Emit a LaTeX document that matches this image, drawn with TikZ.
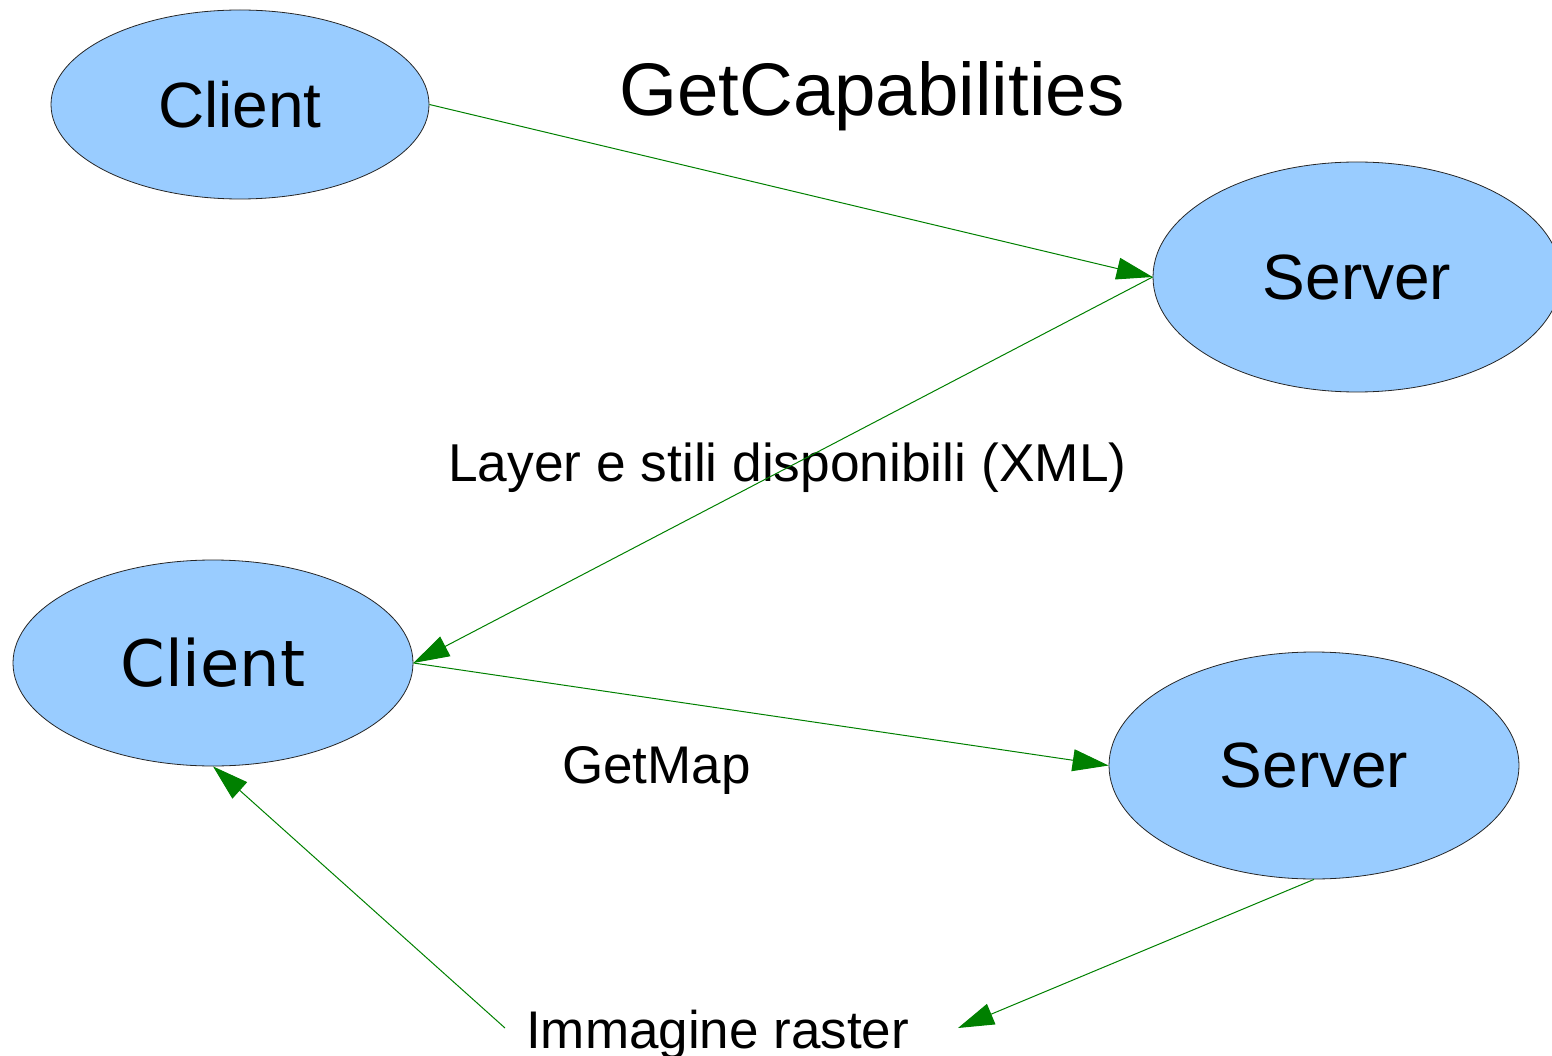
\documentclass[tikz,border=0pt]{standalone}
\usepackage{fontspec}
\setmainfont{Liberation Sans}
\newfontfamily\dejavu{DejaVu Sans}
\usetikzlibrary{shapes.geometric,arrows.meta}
\definecolor{nodeblue}{HTML}{99CCFF}
\definecolor{arrowgreen}{HTML}{008000}
\tikzset{
  peer/.style={ellipse, draw=black!85, line width=0.8pt, fill=nodeblue, inner sep=0pt, text=black},
  flow/.style={draw=arrowgreen, line width=1pt, -{Triangle[length=36pt,width=22pt,fill=arrowgreen]}},
  lbl/.style={anchor=base west, inner sep=0pt, text=black}
}
\begin{document}
\begin{tikzpicture}[x=1pt,y=-1pt]
\useasboundingbox (0,0) rectangle (1552,1056);
\clip (0,0) rectangle (1552,1056);
\node[peer, minimum width=378pt, minimum height=189pt, font=\fontsize{64}{70}\selectfont] (c1) at (240,104.5) {Client};
\node[peer, minimum width=408pt, minimum height=230pt, font=\fontsize{64}{70}\selectfont] (s1) at (1357,277) {Server};
\node[peer, minimum width=400pt, minimum height=206pt, font=\dejavu\fontsize{64}{70}\selectfont] (c2) at (213,663) {Client};
\node[peer, minimum width=410pt, minimum height=227pt, font=\fontsize{64}{70}\selectfont] (s2) at (1314,765.5) {Server};
\node[lbl, font=\fontsize{74.5}{80}\selectfont] (gc) at (619,116) {GetCapabilities};
\node[lbl, font=\fontsize{53.3}{60}\selectfont] (lx) at (448,481) {Layer e stili disponibili (XML)};
\node[lbl, font=\fontsize{53}{60}\selectfont] (gm) at (562,783) {GetMap};
\node[lbl, font=\fontsize{53}{60}\selectfont] (ir) at (526,1048) {Immagine raster};
\coordinate (rin) at (958,1028);
\coordinate (rout) at (505,1028);
\draw[flow] (c1.east) -- (s1.west);
\draw[flow] (s1.west) -- (c2.east);
\draw[flow] (c2.east) -- (s2.west);
\draw[flow] (s2.south) -- (rin);
\draw[flow] (rout) -- (c2.south);
\end{tikzpicture}
\end{document}
